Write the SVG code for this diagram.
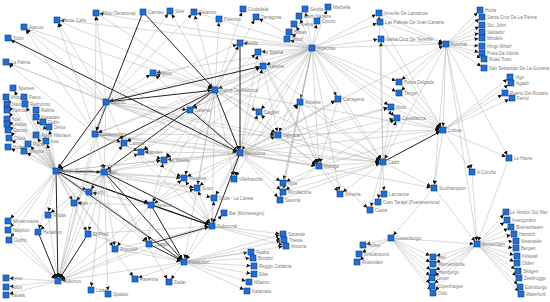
<svg xmlns="http://www.w3.org/2000/svg" width="550" height="302" viewBox="0 0 550 302">
<style>
.e path{fill:none;stroke:#aaaaaa;stroke-width:.45;marker-end:url(#a)}
.e path.t{stroke:#222;stroke-width:1}
.n rect{fill:#1e6fde;stroke:#173a72;stroke-width:.6}
.n text{font-family:"Liberation Sans",Arial,sans-serif;font-size:4.5px;fill:#7a7a7a}
</style>
<defs>
<marker id="a" markerUnits="userSpaceOnUse" markerWidth="8" markerHeight="4" refX="7.5" refY="2" orient="auto"><path d="M0,0L4,2L0,4z" fill="#111"/></marker>
</defs>
<rect width="550" height="302" fill="#fff"/>
<g class="e" id="connectors">
<path d="M446 44L480 10"/><path d="M446 44L482 17"/><path d="M446 44L482 25"/><path d="M446 44L482 32"/><path d="M446 44L482 38"/><path d="M446 44L482 46"/><path d="M446 44L482 53"/><path d="M446 44L484 59"/><path d="M446 44L484 68"/>
<path d="M379 13L446 44"/><path d="M380 22L446 44"/><path d="M381 39L446 44"/><path d="M312 48L446 44"/><path d="M446 44L443 130"/><path d="M446 44L434 188"/><path d="M446 44L472 172"/><path d="M446 44L509 158"/><path d="M446 44L399 82"/><path d="M446 44L399 93"/><path d="M446 44L383 162"/><path d="M446 44L477 244"/><path d="M240 153L446 44"/>
<path d="M443 130L510 77"/><path d="M443 130L511 83"/><path d="M443 130L505 93"/><path d="M443 130L512 98"/><path d="M443 130L509 158"/><path d="M443 130L472 172"/><path d="M443 130L434 188"/><path d="M399 82L443 130"/><path d="M399 93L443 130"/><path d="M397 118L443 130"/><path d="M381 39L443 130"/><path d="M380 22L443 130"/><path d="M240 153L443 130"/><path d="M278 135L443 130"/><path d="M319 166L443 130"/><path class="t" d="M383 162L443 130"/><path d="M215 90L443 130"/><path d="M312 48L443 130"/><path d="M391 107L443 130"/>
<path d="M240 153L434 188"/><path d="M383 162L434 188"/><path d="M434 188L391 238"/><path d="M434 188L477 244"/><path d="M509 158L477 244"/><path d="M472 172L477 244"/>
<path d="M477 244L506 212"/><path d="M477 244L507 220"/><path d="M477 244L511 227"/><path d="M477 244L514 234"/><path d="M477 244L516 241"/><path d="M477 244L516 248"/><path d="M477 244L517 256"/><path d="M477 244L517 263"/><path d="M477 244L518 271"/><path d="M477 244L519 278"/><path d="M477 244L520 287"/><path d="M477 244L521 294"/>
<path d="M477 244L433 257"/><path d="M477 244L433 264"/><path d="M477 244L433 272"/><path d="M477 244L432 278"/><path d="M477 244L432 286"/><path d="M477 244L433 293"/><path d="M391 238L477 244"/>
<path d="M391 238L363 245"/><path d="M391 238L359 254"/><path d="M391 238L357 262"/><path d="M391 238L433 257"/><path d="M391 238L433 264"/><path d="M391 238L433 272"/><path d="M391 238L432 278"/><path d="M391 238L432 286"/><path d="M391 238L433 293"/>
<path d="M312 48L305 9"/><path d="M312 48L328 7"/><path d="M312 48L299 16"/><path d="M312 48L317 21"/><path d="M312 48L294 24"/><path d="M312 48L289 32"/><path d="M312 48L287 39"/><path d="M312 48L379 13"/><path d="M312 48L380 22"/><path d="M312 48L381 39"/><path d="M312 48L399 82"/><path d="M312 48L399 93"/><path d="M312 48L397 118"/><path d="M312 48L391 107"/><path d="M312 48L383 162"/><path d="M312 48L319 166"/><path d="M312 48L300 102"/><path d="M312 48L338 99"/><path d="M312 48L278 135"/><path d="M312 48L240 153"/><path d="M312 48L215 90"/><path d="M312 48L263 66"/><path d="M312 48L258 52"/><path d="M312 48L240 43"/><path d="M312 48L95 134"/><path d="M312 48L106 102"/><path d="M312 48L190 110"/><path d="M312 48L141 152"/><path d="M312 48L283 183"/><path d="M312 48L283 192"/><path d="M312 48L280 200"/><path d="M312 48L340 194"/><path d="M312 48L153 73"/><path d="M312 48L256 17"/><path d="M312 48L194 12"/><path d="M312 48L96 13"/><path d="M312 48L57 20"/><path d="M312 48L259 112"/><path d="M312 48L164 160"/><path d="M312 48L234 179"/><path d="M312 48L124 143"/>
<path d="M383 162L384 194"/><path d="M383 162L378 202"/><path d="M383 162L370 210"/><path d="M383 162L340 194"/><path d="M278 135L383 162"/><path d="M319 166L383 162"/><path d="M240 153L383 162"/><path d="M215 90L383 162"/><path d="M95 134L383 162"/><path d="M106 102L383 162"/><path d="M263 66L383 162"/><path d="M383 162L381 39"/><path d="M383 162L379 13"/><path d="M383 162L391 107"/><path d="M383 162L397 118"/><path d="M300 102L383 162"/><path d="M338 99L383 162"/><path d="M283 183L383 162"/><path d="M283 192L383 162"/><path d="M280 200L383 162"/>
<path d="M319 166L340 194"/><path d="M278 135L319 166"/><path d="M240 153L319 166"/><path d="M215 90L319 166"/><path d="M338 99L319 166"/><path d="M300 102L319 166"/><path d="M319 166L397 118"/><path d="M319 166L283 183"/><path d="M319 166L283 192"/><path d="M319 166L370 210"/><path d="M106 102L319 166"/><path d="M95 134L319 166"/><path d="M263 66L319 166"/><path d="M258 52L319 166"/>
<path d="M278 135L259 112"/><path d="M278 135L300 102"/><path d="M278 135L338 99"/><path d="M215 90L278 135"/><path d="M240 153L278 135"/><path d="M106 102L278 135"/><path d="M95 134L278 135"/><path d="M263 66L278 135"/><path d="M278 135L391 107"/>
<path class="t" d="M143 12L215 90"/><path d="M215 90L170 11"/><path d="M215 90L194 12"/><path d="M215 90L219 19"/><path d="M215 90L243 9"/><path d="M215 90L256 17"/><path d="M215 90L240 43"/><path d="M215 90L258 52"/><path d="M215 90L263 66"/><path d="M215 90L153 73"/><path d="M57 20L215 90"/><path d="M24 27L215 90"/><path d="M96 13L215 90"/><path class="t" d="M106 102L215 90"/><path class="t" d="M215 90L240 153"/><path class="t" d="M215 90L56 171"/><path class="t" d="M215 90L104 172"/><path d="M215 90L95 134"/><path d="M215 90L259 112"/><path d="M215 90L190 110"/><path d="M215 90L212 226"/><path d="M215 90L184 262"/><path d="M215 90L151 205"/><path d="M215 90L141 152"/><path d="M215 90L164 160"/><path d="M215 90L184 178"/><path d="M215 90L197 188"/><path d="M215 90L234 179"/><path d="M215 90L124 143"/>
<path class="t" d="M240 43L240 153"/><path class="t" d="M190 110L240 153"/><path d="M95 134L240 153"/><path class="t" d="M8 38L240 153"/><path d="M6 62L240 153"/><path d="M24 27L240 153"/><path d="M240 153L259 112"/><path d="M240 153L141 152"/><path d="M240 153L164 160"/><path d="M240 153L234 179"/><path d="M240 153L184 178"/><path d="M240 153L197 188"/><path d="M240 153L214 198"/><path class="t" d="M240 153L212 226"/><path d="M240 153L184 262"/><path d="M240 153L151 205"/><path d="M240 153L56 171"/><path d="M240 153L104 172"/><path d="M106 102L240 153"/><path d="M240 153L300 102"/><path d="M240 153L338 99"/><path d="M240 153L283 183"/><path d="M240 153L283 192"/><path d="M240 153L280 200"/><path d="M240 153L263 66"/><path d="M240 153L258 52"/><path d="M240 153L153 73"/><path d="M240 153L391 107"/><path d="M240 153L397 118"/>
<path d="M106 102L96 13"/><path d="M106 102L57 20"/><path d="M106 102L24 27"/><path d="M106 102L8 38"/><path d="M106 102L6 62"/><path class="t" d="M143 12L95 134"/><path d="M106 102L170 11"/><path d="M106 102L194 12"/><path d="M106 102L240 43"/><path class="t" d="M106 102L263 66"/><path d="M106 102L190 110"/><path d="M106 102L95 134"/><path class="t" d="M106 102L56 171"/><path d="M106 102L104 172"/><path d="M106 102L153 73"/><path d="M106 102L124 143"/>
<path d="M95 134L96 13"/><path d="M95 134L57 20"/><path d="M95 134L24 27"/><path d="M95 134L6 62"/><path d="M95 134L56 171"/><path d="M95 134L104 172"/><path d="M95 134L124 143"/><path d="M95 134L141 152"/><path d="M95 134L164 160"/><path d="M95 134L184 178"/>
<path d="M56 171L13 88"/><path d="M56 171L6 97"/><path d="M56 171L24 97"/><path d="M56 171L7 104"/><path d="M56 171L25 104"/><path d="M56 171L7 110"/><path d="M56 171L36 110"/><path d="M56 171L7 119"/><path d="M56 171L36 117"/><path d="M56 171L7 124"/><path d="M56 171L43 122"/><path d="M56 171L8 130"/><path d="M56 171L49 127"/><path d="M56 171L9 138"/><path d="M56 171L36 135"/><path d="M56 171L46 141"/><path d="M56 171L8 147"/><path d="M56 171L28 144"/><path d="M56 171L24 151"/>
<path class="t" d="M56 171L104 172"/><path class="t" d="M56 171L58 281"/><path class="t" d="M56 171L212 226"/><path class="t" d="M56 171L184 262"/><path class="t" d="M56 171L151 205"/><path d="M56 171L149 244"/><path d="M56 171L115 249"/><path d="M56 171L89 192"/><path d="M56 171L74 203"/><path d="M56 171L8 221"/><path d="M56 171L8 230"/><path d="M56 171L9 240"/><path d="M56 171L38 232"/><path d="M56 171L48 215"/><path d="M56 171L88 234"/><path d="M56 171L184 178"/><path d="M56 171L197 188"/><path d="M56 171L164 160"/><path d="M56 171L135 279"/>
<path class="t" d="M104 172L212 226"/><path class="t" d="M104 172L184 262"/><path d="M104 172L151 205"/><path d="M104 172L149 244"/><path d="M104 172L58 281"/><path d="M104 172L89 192"/><path d="M104 172L74 203"/><path d="M104 172L115 249"/><path d="M104 172L88 234"/><path d="M104 172L38 232"/><path d="M104 172L48 215"/><path d="M104 172L124 143"/><path d="M104 172L164 160"/><path d="M104 172L184 178"/><path d="M104 172L197 188"/><path d="M104 172L214 198"/><path d="M104 172L169 282"/><path d="M104 172L91 290"/><path d="M104 172L108 294"/><path d="M104 172L141 152"/>
<path d="M58 281L6 278"/><path d="M58 281L6 287"/><path d="M58 281L6 295"/><path d="M8 221L58 281"/><path d="M8 230L58 281"/><path d="M9 240L58 281"/><path class="t" d="M38 232L58 281"/><path d="M48 215L58 281"/><path d="M74 203L58 281"/><path d="M151 205L58 281"/><path class="t" d="M88 234L58 281"/><path d="M184 262L58 281"/><path d="M212 226L58 281"/><path d="M149 244L58 281"/><path d="M115 249L58 281"/><path d="M95 134L58 281"/><path d="M106 102L58 281"/><path d="M89 192L58 281"/>
<path class="t" d="M151 205L212 226"/><path class="t" d="M149 244L212 226"/><path d="M212 226L214 198"/><path d="M212 226L224 213"/><path d="M212 226L184 262"/><path d="M212 226L197 188"/><path d="M212 226L184 178"/><path d="M212 226L283 234"/><path d="M212 226L284 240"/><path d="M212 226L286 246"/><path d="M115 249L212 226"/><path d="M124 143L212 226"/><path d="M164 160L212 226"/><path d="M88 234L212 226"/>
<path d="M184 262L251 252"/><path d="M184 262L253 258"/><path d="M184 262L254 266"/><path d="M184 262L254 274"/><path d="M184 262L249 282"/><path d="M184 262L247 291"/><path d="M184 262L169 282"/><path class="t" d="M149 244L184 262"/><path class="t" d="M151 205L184 262"/><path d="M184 262L283 234"/><path d="M184 262L284 240"/><path d="M184 262L286 246"/><path d="M115 249L184 262"/><path d="M184 262L135 279"/><path d="M88 234L184 262"/><path d="M89 192L184 262"/>
<path d="M151 205L74 203"/><path d="M151 205L149 244"/><path d="M151 205L89 192"/><path d="M151 205L197 188"/><path d="M151 205L164 160"/><path d="M151 205L184 178"/><path d="M151 205L115 249"/>
</g>
<g class="n">
<g id="n-olb"><rect x="93" y="10" width="6" height="6"/><text x="101" y="15">Olbia (Terranova)</text></g>
<g id="n-mon"><rect x="54" y="17" width="6" height="6"/><text x="62" y="22">Monte Carlo</text></g>
<g id="n-aja"><rect x="21" y="24" width="6" height="6"/><text x="29" y="29">Ajaccio</text></g>
<g id="n-tol"><rect x="5" y="35" width="6" height="6"/><text x="13" y="40">Tolón</text></g>
<g id="n-lpa"><rect x="3" y="59" width="6" height="6"/><text x="11" y="64">La Palma</text></g>
<g id="n-spe"><rect x="10" y="85" width="6" height="6"/><text x="18" y="90">Spetses</text></g>
<g id="n-mil"><rect x="3" y="94" width="6" height="6"/><text x="11" y="99">Milos</text></g>
<g id="n-par"><rect x="21" y="94" width="6" height="6"/><text x="29" y="99">Paros</text></g>
<g id="n-nax"><rect x="4" y="101" width="6" height="6"/><text x="12" y="106">Naxos</text></g>
<g id="n-ret"><rect x="22" y="101" width="6" height="6"/><text x="30" y="106">Rethymno</text></g>
<g id="n-pat"><rect x="4" y="107" width="6" height="6"/><text x="12" y="112">Patmos</text></g>
<g id="n-raf"><rect x="33" y="107" width="6" height="6"/><text x="41" y="112">Rafina</text></g>
<g id="n-kos"><rect x="4" y="116" width="6" height="6"/><text x="12" y="121">Kos</text></g>
<g id="n-kus"><rect x="33" y="114" width="6" height="6"/><text x="41" y="119">Kusadasi</text></g>
<g id="n-les"><rect x="4" y="121" width="6" height="6"/><text x="12" y="126">Lesbos</text></g>
<g id="n-did"><rect x="40" y="119" width="6" height="6"/><text x="48" y="124">Didim</text></g>
<g id="n-sam"><rect x="5" y="127" width="6" height="6"/><text x="13" y="132">Samos</text></g>
<g id="n-del"><rect x="46" y="124" width="6" height="6"/><text x="54" y="129">Delos</text></g>
<g id="n-chi"><rect x="6" y="135" width="6" height="6"/><text x="14" y="140">Chios</text></g>
<g id="n-agn"><rect x="33" y="132" width="6" height="6"/><text x="41" y="137">Agios Nikolaos</text></g>
<g id="n-ite"><rect x="43" y="138" width="6" height="6"/><text x="51" y="143">Itea</text></g>
<g id="n-zak"><rect x="5" y="144" width="6" height="6"/><text x="13" y="149">Hydra</text></g>
<g id="n-pyl"><rect x="25" y="141" width="6" height="6"/><text x="33" y="146">Pylos</text></g>
<g id="n-nis"><rect x="21" y="148" width="6" height="6"/><text x="29" y="153">Nisyros</text></g>
<g id="n-liv"><rect x="103" y="99" width="6" height="6"/><text x="111" y="104">Livorno</text></g>
<g id="n-civ"><rect x="92" y="131" width="6" height="6"/><text x="100" y="136">Civitavecchia</text></g>
<g id="n-cat"><rect x="121" y="140" width="6" height="6"/><text x="129" y="145">Catania</text></g>
<g id="n-pir"><rect x="53" y="168" width="6" height="6"/><text x="61" y="173">Pireo - Santorini</text></g>
<g id="n-bar"><rect x="101" y="169" width="6" height="6"/><text x="109" y="174">Bari</text></g>
<g id="n-cor"><rect x="86" y="189" width="6" height="6"/><text x="94" y="194">Corfú</text></g>
<g id="n-spl"><rect x="71" y="200" width="6" height="6"/><text x="79" y="205">Split</text></g>
<g id="n-rod"><rect x="45" y="212" width="6" height="6"/><text x="53" y="217">Rodas</text></g>
<g id="n-mne"><rect x="5" y="218" width="6" height="6"/><text x="13" y="223">Monemvasia</text></g>
<g id="n-naf"><rect x="5" y="227" width="6" height="6"/><text x="13" y="232">Nafplion</text></g>
<g id="n-gyt"><rect x="6" y="237" width="6" height="6"/><text x="14" y="242">Gythio</text></g>
<g id="n-her"><rect x="35" y="229" width="6" height="6"/><text x="43" y="234">Heraklion</text></g>
<g id="n-elp"><rect x="85" y="231" width="6" height="6"/><text x="93" y="236">El Pireo</text></g>
<g id="n-arg"><rect x="112" y="246" width="6" height="6"/><text x="120" y="251">Argostoli</text></g>
<g id="n-myk"><rect x="55" y="278" width="6" height="6"/><text x="63" y="283">Mykonos</text></g>
<g id="n-syr"><rect x="3" y="275" width="6" height="6"/><text x="11" y="280">Syros</text></g>
<g id="n-vol"><rect x="3" y="284" width="6" height="6"/><text x="11" y="289">Volos</text></g>
<g id="n-kav"><rect x="3" y="292" width="6" height="6"/><text x="11" y="297">Kavala</text></g>
<g id="n-lip"><rect x="88" y="287" width="6" height="6"/><text x="96" y="292">Lipari</text></g>
<g id="n-spa"><rect x="105" y="291" width="6" height="6"/><text x="113" y="296">Spalato</text></g>
<g id="n-rav"><rect x="132" y="276" width="6" height="6"/><text x="140" y="281">Ravenna</text></g>
<g id="n-ven"><rect x="148" y="202" width="6" height="6"/><text x="156" y="207">Venecia</text></g>
<g id="n-tra"><rect x="146" y="241" width="6" height="6"/><text x="154" y="246">Trapani</text></g>
<g id="n-zad"><rect x="166" y="279" width="6" height="6"/><text x="174" y="284">Zadar</text></g>
<g id="n-kat"><rect x="181" y="259" width="6" height="6"/><text x="189" y="264">Katakolon</text></g>
<g id="n-dub"><rect x="209" y="223" width="6" height="6"/><text x="217" y="228">Dubrovnik</text></g>
<g id="n-sud"><rect x="211" y="195" width="6" height="6"/><text x="219" y="200">Suda - La Canea</text></g>
<g id="n-bmn"><rect x="221" y="210" width="6" height="6"/><text x="229" y="215">Bar (Montenegro)</text></g>
<g id="n-aqa"><rect x="248" y="249" width="6" height="6"/><text x="256" y="254">Aqaba</text></g>
<g id="n-bri"><rect x="250" y="255" width="6" height="6"/><text x="258" y="260">Brindisi</text></g>
<g id="n-reg"><rect x="251" y="263" width="6" height="6"/><text x="259" y="268">Reggio Calabria</text></g>
<g id="n-eil"><rect x="251" y="271" width="6" height="6"/><text x="259" y="276">Eilat</text></g>
<g id="n-mlz"><rect x="246" y="279" width="6" height="6"/><text x="254" y="284">Milazzo</text></g>
<g id="n-kal"><rect x="244" y="288" width="6" height="6"/><text x="252" y="293">Kalamata</text></g>
<g id="n-sar"><rect x="280" y="231" width="6" height="6"/><text x="288" y="236">Sarande</text></g>
<g id="n-tri"><rect x="281" y="237" width="6" height="6"/><text x="289" y="242">Trieste</text></g>
<g id="n-anc"><rect x="283" y="243" width="6" height="6"/><text x="291" y="248">Ancona</text></g>
<g id="n-sav"><rect x="277" y="197" width="6" height="6"/><text x="285" y="202">Savona</text></g>
<g id="n-niz"><rect x="280" y="180" width="6" height="6"/><text x="288" y="185">Niza</text></g>
<g id="n-mfa"><rect x="280" y="189" width="6" height="6"/><text x="288" y="194">Monfalcone</text></g>
<g id="n-kot"><rect x="194" y="185" width="6" height="6"/><text x="202" y="190">Kotor</text></g>
<g id="n-mes"><rect x="181" y="175" width="6" height="6"/><text x="189" y="180">Messina</text></g>
<g id="n-vil"><rect x="231" y="176" width="6" height="6"/><text x="239" y="181">Villefranche</text></g>
<g id="n-lav"><rect x="161" y="157" width="6" height="6"/><text x="169" y="162">La Valetta</text></g>
<g id="n-nap"><rect x="138" y="149" width="6" height="6"/><text x="146" y="154">Nápoles</text></g>
<g id="n-sal"><rect x="187" y="107" width="6" height="6"/><text x="195" y="112">Salerno</text></g>
<g id="n-cag"><rect x="256" y="109" width="6" height="6"/><text x="264" y="114">Cagliari</text></g>
<g id="n-bcn"><rect x="237" y="150" width="6" height="6"/><text x="245" y="155">Barcelona</text></g>
<g id="n-val"><rect x="275" y="132" width="6" height="6"/><text x="283" y="137">Valencia</text></g>
<g id="n-ali"><rect x="297" y="99" width="6" height="6"/><text x="305" y="104">Alicante</text></g>
<g id="n-cta"><rect x="335" y="96" width="6" height="6"/><text x="343" y="101">Cartagena</text></g>
<g id="n-ibi"><rect x="388" y="104" width="6" height="6"/><text x="396" y="109">Ibiza</text></g>
<g id="n-cas"><rect x="394" y="115" width="6" height="6"/><text x="402" y="120">Casablanca</text></g>
<g id="n-mlg"><rect x="316" y="163" width="6" height="6"/><text x="324" y="168">Málaga</text></g>
<g id="n-cad"><rect x="380" y="159" width="6" height="6"/><text x="388" y="164">Cádiz</text></g>
<g id="n-alm"><rect x="337" y="191" width="6" height="6"/><text x="345" y="196">Almería</text></g>
<g id="n-lan"><rect x="381" y="191" width="6" height="6"/><text x="389" y="196">Lanzarote</text></g>
<g id="n-gta"><rect x="375" y="199" width="6" height="6"/><text x="383" y="204">Gran Tarajal (Fuerteventura)</text></g>
<g id="n-ceu"><rect x="367" y="207" width="6" height="6"/><text x="375" y="212">Ceuta</text></g>
<g id="n-pal"><rect x="212" y="87" width="6" height="6"/><text x="220" y="92">Palma De Mallorca</text></g>
<g id="n-mah"><rect x="150" y="70" width="6" height="6"/><text x="158" y="75">Mahón</text></g>
<g id="n-can"><rect x="140" y="9" width="6" height="6"/><text x="148" y="14">Cannes</text></g>
<g id="n-set"><rect x="167" y="8" width="6" height="6"/><text x="175" y="13">Sète</text></g>
<g id="n-plm"><rect x="191" y="9" width="6" height="6"/><text x="199" y="14">Palamós</text></g>
<g id="n-prm"><rect x="216" y="16" width="6" height="6"/><text x="224" y="21">Palermo</text></g>
<g id="n-ciu"><rect x="240" y="6" width="6" height="6"/><text x="248" y="11">Ciudadela</text></g>
<g id="n-tar"><rect x="253" y="14" width="6" height="6"/><text x="261" y="19">Tarragona</text></g>
<g id="n-bas"><rect x="237" y="40" width="6" height="6"/><text x="245" y="45">Bastia</text></g>
<g id="n-lsp"><rect x="255" y="49" width="6" height="6"/><text x="263" y="54">La Spezia</text></g>
<g id="n-gen"><rect x="260" y="63" width="6" height="6"/><text x="268" y="68">Génova</text></g>
<g id="n-alg"><rect x="309" y="45" width="6" height="6"/><text x="317" y="50">Algeciras</text></g>
<g id="n-sev"><rect x="302" y="6" width="6" height="6"/><text x="310" y="11">Sevilla</text></g>
<g id="n-mar"><rect x="325" y="4" width="6" height="6"/><text x="333" y="9">Marbella</text></g>
<g id="n-snz"><rect x="296" y="13" width="6" height="6"/><text x="304" y="18">Saint Nazaire</text></g>
<g id="n-opo"><rect x="314" y="18" width="6" height="6"/><text x="322" y="23">Oporto</text></g>
<g id="n-hue"><rect x="291" y="21" width="6" height="6"/><text x="299" y="26">Huelva</text></g>
<g id="n-bil"><rect x="286" y="29" width="6" height="6"/><text x="294" y="34">Bilbao</text></g>
<g id="n-mot"><rect x="284" y="36" width="6" height="6"/><text x="292" y="41">Motril</text></g>
<g id="n-arr"><rect x="376" y="10" width="6" height="6"/><text x="384" y="15">Arrecife De Lanzarote</text></g>
<g id="n-lpg"><rect x="377" y="19" width="6" height="6"/><text x="385" y="24">Las Palmas De Gran Canaria</text></g>
<g id="n-sct"><rect x="378" y="36" width="6" height="6"/><text x="386" y="41">Santa Cruz De Tenerife</text></g>
<g id="n-pde"><rect x="396" y="79" width="6" height="6"/><text x="404" y="84">Ponta Delgada</text></g>
<g id="n-tan"><rect x="396" y="90" width="6" height="6"/><text x="404" y="95">Tanger</text></g>
<g id="n-fun"><rect x="443" y="41" width="6" height="6"/><text x="451" y="46">Funchal</text></g>
<g id="n-hor"><rect x="477" y="7" width="6" height="6"/><text x="485" y="12">Horta</text></g>
<g id="n-scp"><rect x="479" y="14" width="6" height="6"/><text x="487" y="19">Santa Cruz De La Palma</text></g>
<g id="n-stj"><rect x="479" y="22" width="6" height="6"/><text x="487" y="27">Sto. John</text></g>
<g id="n-slv"><rect x="479" y="29" width="6" height="6"/><text x="487" y="34">Salvador</text></g>
<g id="n-min"><rect x="479" y="35" width="6" height="6"/><text x="487" y="40">Mindelo</text></g>
<g id="n-kin"><rect x="479" y="43" width="6" height="6"/><text x="487" y="48">Kings Wharf</text></g>
<g id="n-pra"><rect x="479" y="50" width="6" height="6"/><text x="487" y="55">Praia Da Vitória</text></g>
<g id="n-roa"><rect x="481" y="56" width="6" height="6"/><text x="489" y="61">Road Town</text></g>
<g id="n-ssg"><rect x="481" y="65" width="6" height="6"/><text x="489" y="70">San Sebastián De La Gomera</text></g>
<g id="n-vig"><rect x="507" y="74" width="6" height="6"/><text x="515" y="79">Vigo</text></g>
<g id="n-aga"><rect x="508" y="80" width="6" height="6"/><text x="516" y="85">Agadir</text></g>
<g id="n-pdr"><rect x="502" y="90" width="6" height="6"/><text x="510" y="95">Puerto Del Rosario</text></g>
<g id="n-fer"><rect x="509" y="95" width="6" height="6"/><text x="517" y="100">Ferrol</text></g>
<g id="n-lis"><rect x="440" y="127" width="6" height="6"/><text x="448" y="132">Lisboa</text></g>
<g id="n-leh"><rect x="506" y="155" width="6" height="6"/><text x="514" y="160">Le Havre</text></g>
<g id="n-aco"><rect x="469" y="169" width="6" height="6"/><text x="477" y="174">A Coruña</text></g>
<g id="n-sou"><rect x="431" y="185" width="6" height="6"/><text x="439" y="190">Southampton</text></g>
<g id="n-got"><rect x="388" y="235" width="6" height="6"/><text x="396" y="240">Gotemburgo</text></g>
<g id="n-arh"><rect x="360" y="242" width="6" height="6"/><text x="368" y="247">Århus</text></g>
<g id="n-kri"><rect x="356" y="251" width="6" height="6"/><text x="364" y="256">Kristiansund</text></g>
<g id="n-rot"><rect x="354" y="259" width="6" height="6"/><text x="362" y="264">Rotterdam</text></g>
<g id="n-ams"><rect x="474" y="241" width="6" height="6"/><text x="482" y="246">Amsterdam</text></g>
<g id="n-lvs"><rect x="503" y="209" width="6" height="6"/><text x="510" y="214">Le Verdon Sur Mer</text></g>
<g id="n-inv"><rect x="504" y="217" width="6" height="6"/><text x="512" y="222">Invergordon</text></g>
<g id="n-bre"><rect x="508" y="224" width="6" height="6"/><text x="516" y="229">Bremerhaven</text></g>
<g id="n-har"><rect x="511" y="231" width="6" height="6"/><text x="519" y="236">Harwich</text></g>
<g id="n-new"><rect x="513" y="238" width="6" height="6"/><text x="521" y="243">Newcastle</text></g>
<g id="n-ber"><rect x="513" y="245" width="6" height="6"/><text x="521" y="250">Bergen</text></g>
<g id="n-kir"><rect x="514" y="253" width="6" height="6"/><text x="522" y="258">Kirkwall</text></g>
<g id="n-old"><rect x="514" y="260" width="6" height="6"/><text x="522" y="265">Olden</text></g>
<g id="n-ska"><rect x="515" y="268" width="6" height="6"/><text x="523" y="273">Skagen</text></g>
<g id="n-zee"><rect x="516" y="275" width="6" height="6"/><text x="524" y="280">Zeebrugge</text></g>
<g id="n-edi"><rect x="517" y="284" width="6" height="6"/><text x="525" y="289">Edimburgo</text></g>
<g id="n-wat"><rect x="518" y="291" width="6" height="6"/><text x="526" y="296">Waterford</text></g>
<g id="n-kie"><rect x="430" y="254" width="6" height="6"/><text x="438" y="259">Kiel</text></g>
<g id="n-war"><rect x="430" y="261" width="6" height="6"/><text x="438" y="266">Warnemünde</text></g>
<g id="n-ham"><rect x="430" y="269" width="6" height="6"/><text x="438" y="274">Hamburgo</text></g>
<g id="n-dov"><rect x="429" y="275" width="6" height="6"/><text x="437" y="280">Dover</text></g>
<g id="n-cop"><rect x="429" y="283" width="6" height="6"/><text x="437" y="288">Copenhague</text></g>
<g id="n-osl"><rect x="430" y="290" width="6" height="6"/><text x="438" y="295">Oslo</text></g>
</g>
</svg>
